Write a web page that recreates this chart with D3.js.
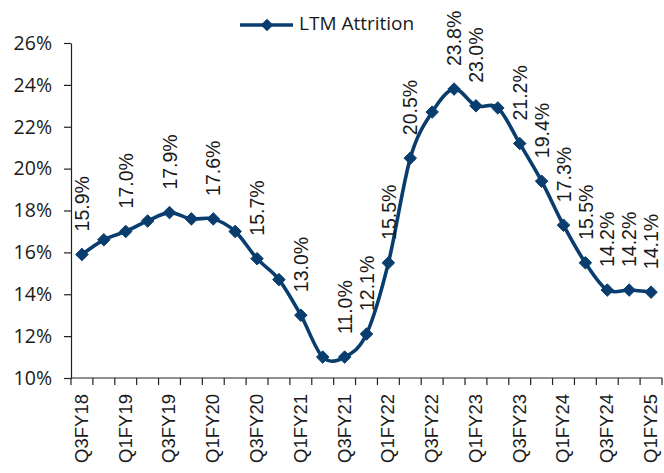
<!DOCTYPE html>
<html>
<head>
<meta charset="utf-8">
<script src="https://cdn.jsdelivr.net/npm/d3@7"></script>
<style>
  html, body { margin: 0; padding: 0; background: #fff; }
  svg { display: block; }
</style>
</head>
<body>
<svg id="chart" width="664" height="473"></svg>
<script>
// Quarterly last-twelve-month attrition
const quarters = [
  "Q3FY18","Q4FY18","Q1FY19","Q2FY19","Q3FY19","Q4FY19","Q1FY20","Q2FY20","Q3FY20",
  "Q4FY20","Q1FY21","Q2FY21","Q3FY21","Q4FY21","Q1FY22","Q2FY22","Q3FY22","Q4FY22",
  "Q1FY23","Q2FY23","Q3FY23","Q4FY23","Q1FY24","Q2FY24","Q3FY24","Q4FY24","Q1FY25"
];
const attrition = [
  15.9, 16.6, 17.0, 17.5, 17.9, 17.6, 17.6, 17.0, 15.7,
  14.7, 13.0, 11.0, 11.0, 12.1, 15.5, 20.5, 22.7, 23.8,
  23.0, 22.9, 21.2, 19.4, 17.3, 15.5, 14.2, 14.2, 14.1
];
// which points carry a value label
const labelled = [
  1,0,1,0,1,0,1,0,1,
  0,1,0,1,1,1,1,0,1,
  1,0,1,1,1,1,1,1,1
];
const xTickLabels = [
  "Q3FY18","Q1FY19","Q3FY19","Q1FY20","Q3FY20","Q1FY21","Q3FY21",
  "Q1FY22","Q3FY22","Q1FY23","Q3FY23","Q1FY24","Q3FY24","Q1FY25"
];
const yTicks = [10, 12, 14, 16, 18, 20, 22, 24, 26];
const seriesName = "LTM Attrition";

const color = "#083D6E";
const plotLeft = 71, plotRight = 662, plotTop = 43, plotBottom = 378;

const svg = d3.select("#chart");

const x = d3.scaleBand().domain(quarters).range([plotLeft, plotRight]).padding(0);
const y = d3.scaleLinear().domain([10, 26]).range([plotBottom, plotTop]);
const cx = d => x(d) + x.bandwidth() / 2;

// y axis
const yAxis = svg.append("g")
  .attr("transform", `translate(${plotLeft},0)`)
  .call(d3.axisLeft(y).tickValues(yTicks).tickFormat(d => d + "%").tickSize(7).tickSizeOuter(0));
yAxis.select(".domain").attr("stroke", "#222").attr("stroke-width", 1.2);
yAxis.selectAll(".tick line").attr("stroke", "#222").attr("stroke-width", 1.2);
yAxis.selectAll(".tick text")
  .attr("x", -19)
  .attr("font-family", "'Open Sans', Lato, sans-serif")
  .attr("font-size", 19.5)
  .attr("fill", "#1a1a1a");

// x axis: ticks on band boundaries, labels on every other category
const xg = svg.append("g");
xg.append("line")
  .attr("x1", plotLeft).attr("x2", plotRight)
  .attr("y1", plotBottom).attr("y2", plotBottom)
  .attr("stroke", "#222").attr("stroke-width", 1.2);
xg.selectAll("line.tk")
  .data(quarters.concat(["__end"]))
  .join("line")
  .attr("class", "tk")
  .attr("x1", (d, i) => i < quarters.length ? x(d) : plotRight)
  .attr("x2", (d, i) => i < quarters.length ? x(d) : plotRight)
  .attr("y1", plotBottom).attr("y2", plotBottom + 7)
  .attr("stroke", "#222").attr("stroke-width", 1.2);
xg.selectAll("text")
  .data(xTickLabels)
  .join("text")
  .attr("transform", d => `translate(${cx(d) + 1},${plotBottom + 16}) rotate(-90)`)
  .attr("text-anchor", "end")
  .attr("dominant-baseline", "middle")
  .attr("font-family", "'Liberation Sans', Arial, sans-serif")
  .attr("font-size", 18.5)
  .attr("fill", "#1a1a1a")
  .text(d => d);

// smoothed series line
const pts = quarters.map((q, i) => ({ q, v: attrition[i], show: labelled[i] }));
const line = d3.line().x(d => cx(d.q)).y(d => y(d.v)).curve(d3.curveCardinal.tension(0));
svg.append("path")
  .datum(pts)
  .attr("d", line)
  .attr("fill", "none")
  .attr("stroke", color)
  .attr("stroke-width", 3.6)
  .attr("stroke-linejoin", "round");

const diamond = d3.symbol().type(d3.symbolDiamond2).size(100);
svg.selectAll("path.mk")
  .data(pts)
  .join("path")
  .attr("class", "mk")
  .attr("d", diamond)
  .attr("transform", d => `translate(${cx(d.q)},${y(d.v)})`)
  .attr("fill", color)
  .attr("stroke", color)
  .attr("stroke-width", 1);

// value labels
svg.selectAll("text.val")
  .data(pts.filter(d => d.show))
  .join("text")
  .attr("class", "val")
  .attr("transform", d => `translate(${cx(d.q) + 2},${y(d.v) - 23}) rotate(-90)`)
  .attr("text-anchor", "start")
  .attr("dominant-baseline", "middle")
  .attr("font-family", "'Liberation Sans', Arial, sans-serif")
  .attr("font-size", 19.5)
  .attr("fill", "#1a1a1a")
  .text(d => d.v.toFixed(1) + "%");

// legend
const lg = svg.append("g").attr("transform", "translate(240,25)");
lg.append("line").attr("x1", 0).attr("x2", 53).attr("y1", 0).attr("y2", 0)
  .attr("stroke", color).attr("stroke-width", 3.6);
lg.append("path").attr("d", diamond).attr("transform", "translate(27,0)").attr("fill", color);
lg.append("text")
  .attr("x", 59).attr("y", 0)
  .attr("dominant-baseline", "middle")
  .attr("font-family", "'Open Sans', Lato, sans-serif")
  .attr("font-size", 19)
  .attr("fill", "#1a1a1a")
  .text(seriesName);
</script>
</body>
</html>
